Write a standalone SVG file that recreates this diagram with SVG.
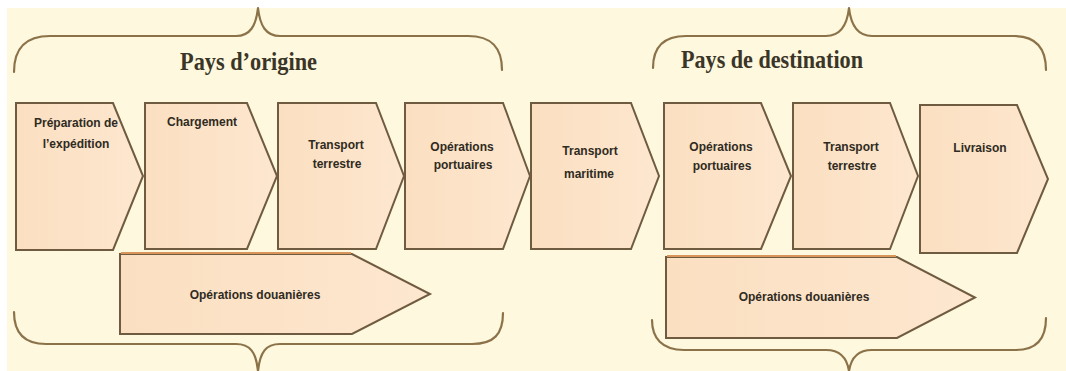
<svg xmlns="http://www.w3.org/2000/svg" width="1066" height="371" viewBox="0 0 1066 371">
  <defs>
    <linearGradient id="stepFill" x1="0" y1="0" x2="1" y2="0">
      <stop offset="0" stop-color="#fbdfc1"/>
      <stop offset="1" stop-color="#fde7cf"/>
    </linearGradient>
    <style>
      .step { fill: url(#stepFill); stroke: #6f5b3f; stroke-width: 2; stroke-linejoin: miter; }
      .customs { fill: url(#stepFill); stroke: #6f5b3f; stroke-width: 2; }
      .customs-top { fill: none; stroke: #d9955a; stroke-width: 2; }
      .lbl { font-family: "Liberation Sans", Arial, sans-serif; font-weight: bold; font-size: 12px; fill: #2f2b22; text-anchor: middle; }
      .title { font-family: "Liberation Serif", "Times New Roman", serif; font-weight: bold; font-size: 26px; fill: #3a3527; }
      .brace { fill: none; stroke: #8c7249; stroke-width: 2.2; stroke-linecap: round; stroke-linejoin: round; }
    </style>
  </defs>

  <!-- page -->
  <rect x="0" y="0" width="1066" height="371" fill="#ffffff"/>
  <rect x="7" y="8" width="1059" height="363" fill="#fdf8de"/>

  <!-- curly braces grouping the two countries -->
  <g id="braces">
    <path class="brace" d="M14,72 C14,48 26,36 50,36 L236,36 C250,36 256,26 258,8 C260,26 266,36 280,36 L468,36 C492,36 502,48 502,70"/>
    <path class="brace" d="M653,68 C653,47 664,36 686,36 L826,36 C840,36 847,26 849,8 C851,26 858,36 872,36 L1014,36 C1036,36 1046,48 1046,70"/>
    <path class="brace" d="M14,312 C14,332 24,344 46,344 L236,344 C250,344 256,352 258,371 C260,352 266,344 280,344 L472,344 C494,344 503,334 503,313"/>
    <path class="brace" d="M652,320 C652,338 662,350 684,350 L826,350 C840,350 847,358 849,371 C851,358 858,350 872,350 L1016,350 C1036,350 1046,340 1046,318"/>
  </g>

  <g id="title-origin">
    <text class="title" x="180" y="70" textLength="137" lengthAdjust="spacingAndGlyphs">Pays d’origine</text>
  </g>
  <g id="title-destination">
    <text class="title" x="681" y="68" textLength="182" lengthAdjust="spacingAndGlyphs">Pays de destination</text>
  </g>

  <!-- process chain -->
  <g id="step-preparation">
    <path class="step" d="M16,103 H113 L143,176 L113,250 H16 Z"/>
    <text class="lbl" x="76" y="127">Préparation de</text>
    <text class="lbl" x="76" y="148">l’expédition</text>
  </g>
  <g id="step-chargement">
    <path class="step" d="M145,103 H247 L277,176 L247,249 H145 Z"/>
    <text class="lbl" x="202" y="126">Chargement</text>
  </g>
  <g id="step-transport-terrestre-1">
    <path class="step" d="M278,103 H376 L404,176 L376,249 H278 Z"/>
    <text class="lbl" x="336" y="149" font-size="11.3">Transport</text>
    <text class="lbl" x="337" y="168" font-size="11.3">terrestre</text>
  </g>
  <g id="step-portuaires-1">
    <path class="step" d="M405,103 H503 L530,176 L503,249 H405 Z"/>
    <text class="lbl" x="462" y="151">Opérations</text>
    <text class="lbl" x="463" y="169">portuaires</text>
  </g>
  <g id="step-transport-maritime">
    <path class="step" d="M531,103 H631 L659,176 L631,249 H531 Z"/>
    <text class="lbl" x="590" y="155" font-size="13.5">Transport</text>
    <text class="lbl" x="589" y="178" font-size="13.5">maritime</text>
  </g>
  <g id="step-portuaires-2">
    <path class="step" d="M664,103 H761 L791,176 L761,249 H664 Z"/>
    <text class="lbl" x="721" y="151">Opérations</text>
    <text class="lbl" x="722" y="170">portuaires</text>
  </g>
  <g id="step-transport-terrestre-2">
    <path class="step" d="M793,103 H890 L918,176 L890,249 H793 Z"/>
    <text class="lbl" x="851" y="151">Transport</text>
    <text class="lbl" x="852" y="170">terrestre</text>
  </g>
  <g id="step-livraison">
    <path class="step" d="M920,105 H1017 L1048,179 L1017,253 H920 Z"/>
    <text class="lbl" x="980" y="152" font-size="11.3">Livraison</text>
  </g>

  <!-- customs spans -->
  <g id="customs-origin">
    <path class="customs" d="M120,254 H352 L430,294 L352,334 H120 Z"/>
    <path class="customs-top" d="M121,253 H351"/>
    <text class="lbl" x="255" y="299" font-size="11.7">Opérations douanières</text>
  </g>
  <g id="customs-destination">
    <path class="customs" d="M666,257 H897 L975,297.5 L897,338 H666 Z"/>
    <path class="customs-top" d="M667,256 H896"/>
    <text class="lbl" x="804" y="301" font-size="11.5">Opérations douanières</text>
  </g>
</svg>
